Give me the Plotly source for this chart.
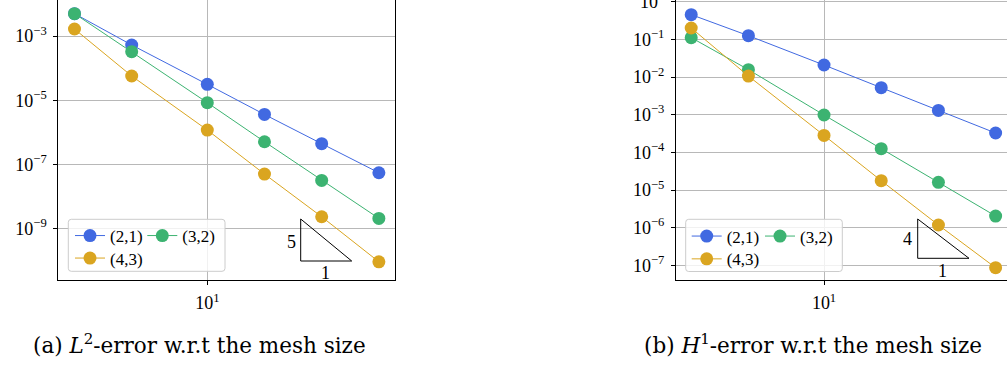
import plotly.graph_objects as go

# ---------------- data ----------------
mesh = [2, 4, 10, 20, 40, 80]
series_names = ["(2,1)", "(3,2)", "(4,3)"]
series_colors = ["#4169E1", "#3CB371", "#DAA520"]

l2_21 = [4.97e-3, 5.25e-4, 3.12e-5, 3.6e-6, 4.43e-7, 5.52e-8]
l2_32 = [4.97e-3, 3.25e-4, 8.4e-6, 5.1e-7, 3.19e-8, 2.09e-9]
l2_43 = [1.65e-3, 5.68e-5, 1.18e-6, 5.02e-8, 2.35e-9, 9.3e-11]

h1_21 = [0.452, 0.125, 0.0208, 5.2e-3, 1.3e-3, 3.26e-4]
h1_32 = [0.111, 0.0157, 9.8e-4, 1.25e-4, 1.6e-5, 2.04e-6]
h1_43 = [0.2, 0.0106, 2.82e-4, 1.77e-5, 1.18e-6, 8.67e-8]

l2_ticks = [1e-3, 1e-5, 1e-7, 1e-9]
l2_ticktext = ["10<sup>−3</sup>", "10<sup>−5</sup>", "10<sup>−7</sup>", "10<sup>−9</sup>"]
h1_ticks = [1e0, 1e-1, 1e-2, 1e-3, 1e-4, 1e-5, 1e-6, 1e-7]
h1_ticktext = ["10<sup>0</sup>", "10<sup>−1</sup>", "10<sup>−2</sup>", "10<sup>−3</sup>",
               "10<sup>−4</sup>", "10<sup>−5</sup>", "10<sup>−6</sup>", "10<sup>−7</sup>"]
x_ticks = [10]
x_ticktext = ["10<sup>1</sup>"]

captions = ["(a) <i>L</i><sup>2</sup>-error w.r.t the mesh size",
            "(b) <i>H</i><sup>1</sup>-error w.r.t the mesh size"]
slopes = ["5", "4"]

# ---------------- layout helpers ----------------
W, H = 1007, 365
FONT = "Liberation Serif"
CAP_FONT = "DejaVu Serif"


def px(x):
    return x / W


def py(y):
    return (H - y) / H


fig = go.Figure()

left_series = [l2_21, l2_32, l2_43]
right_series = [h1_21, h1_32, h1_43]

legend_ids_left = ["legend", "legend2", "legend3"]
legend_ids_right = ["legend4", "legend5", "legend6"]

for i, ys in enumerate(left_series):
    fig.add_trace(go.Scatter(
        x=mesh, y=ys, mode="lines+markers", name=series_names[i],
        line=dict(color=series_colors[i], width=1),
        marker=dict(color=series_colors[i], size=13),
        xaxis="x", yaxis="y", legend=legend_ids_left[i]))
for i, ys in enumerate(right_series):
    fig.add_trace(go.Scatter(
        x=mesh, y=ys, mode="lines+markers", name=series_names[i],
        line=dict(color=series_colors[i], width=1),
        marker=dict(color=series_colors[i], size=13),
        xaxis="x2", yaxis="y2", legend=legend_ids_right[i]))

axis_common = dict(type="log", showgrid=True, gridcolor="#b8b8b8", gridwidth=1,
                   showline=True, linecolor="black", linewidth=1,
                   ticks="outside", ticklen=4, tickcolor="black", tickwidth=1,
                   tickfont=dict(family=FONT, size=18, color="black"),
                   ticklabelstandoff=3, ticklabeloverflow="allow",
                   zeroline=False, automargin=False)

ydom = [py(279.7), 1.0]

fig.update_layout(
    width=W, height=H, margin=dict(l=0, r=0, t=0, b=0),
    paper_bgcolor="white", plot_bgcolor="white",
    font=dict(family=FONT, size=17, color="black"),
    xaxis=dict(axis_common, domain=[px(58.3), px(395)], range=[0.2158, 1.988],
               tickvals=x_ticks, ticktext=x_ticktext, mirror=True, anchor="y"),
    yaxis=dict(axis_common, domain=ydom, range=[-10.589, -1.879],
               tickvals=l2_ticks, ticktext=l2_ticktext, mirror=True, anchor="x"),
    xaxis2=dict(axis_common, domain=[px(676), 1.0], range=[0.221, 1.963],
                tickvals=x_ticks, ticktext=x_ticktext, mirror=True, anchor="y2"),
    yaxis2=dict(axis_common, domain=ydom, range=[-7.38, 0.044],
                tickvals=h1_ticks, ticktext=h1_ticktext, mirror=False, anchor="x2"),
    showlegend=True,
)

# legends: one entry per legend so the 2+1 layout matches
leg_pos = {
    "legend": (70, 234), "legend2": (142.3, 234), "legend3": (70, 256.5),
    "legend4": (686.7, 234.5), "legend5": (760, 234.5), "legend6": (686.7, 257.3),
}
for lid, (lx, ly) in leg_pos.items():
    fig.update_layout({lid: dict(x=px(lx), y=py(ly - 16), xanchor="left", yanchor="top",
                                 bgcolor="rgba(0,0,0,0)", borderwidth=0,
                                 font=dict(family=FONT, size=17, color="black"),
                                 itemsizing="trace")})


def rounded_box(x0, y0, x1, y1, r=3):
    def P(x, y):
        return f"{px(x)},{py(y)}"
    return (f"M {P(x0 + r, y0)} L {P(x1 - r, y0)} Q {P(x1, y0)} {P(x1, y0 + r)} "
            f"L {P(x1, y1 - r)} Q {P(x1, y1)} {P(x1 - r, y1)} "
            f"L {P(x0 + r, y1)} Q {P(x0, y1)} {P(x0, y1 - r)} "
            f"L {P(x0, y0 + r)} Q {P(x0, y0)} {P(x0 + r, y0)} Z")


shapes = []
for (bx0, by0, bx1, by1) in [(68.3, 219.3, 225, 271.3), (685.7, 219.3, 842.3, 271.5)]:
    shapes.append(dict(type="path", xref="paper", yref="paper", layer="above",
                       path=rounded_box(bx0, by0, bx1, by1),
                       fillcolor="rgba(255,255,255,0.8)",
                       line=dict(color="#cccccc", width=1)))

# slope triangles
tri = [((300.7, 219), (300.7, 261), (351.7, 261)),
       ((917.7, 219), (917.7, 258.3), (969, 258.3))]
for (a, b, c) in tri:
    shapes.append(dict(type="path", xref="paper", yref="paper", layer="above",
                       path=f"M {px(a[0])},{py(a[1])} L {px(b[0])},{py(b[1])} "
                            f"L {px(c[0])},{py(c[1])} Z",
                       line=dict(color="black", width=1)))
fig.update_layout(shapes=shapes)

annotations = []
label_pos = [((291, 241.7), (325.7, 272.7)), ((907.3, 239), (942.7, 270.7))]
for k, ((sx, sy), (ox, oy)) in enumerate(label_pos):
    annotations.append(dict(x=px(sx), y=py(sy), xref="paper", yref="paper",
                            xanchor="center", yanchor="middle",
                            text=slopes[k], showarrow=False,
                            font=dict(family=FONT, size=18, color="black")))
    annotations.append(dict(x=px(ox), y=py(oy), xref="paper", yref="paper",
                            xanchor="center", yanchor="middle",
                            text="1", showarrow=False,
                            font=dict(family=FONT, size=18, color="black")))
for k, cx in enumerate([199.5, 812.5]):
    annotations.append(dict(x=px(cx), y=py(344), xref="paper", yref="paper",
                            xanchor="center", yanchor="middle",
                            text=captions[k], showarrow=False,
                            font=dict(family=CAP_FONT, size=21.5, color="black")))
fig.update_layout(annotations=annotations)

fig.write_html("out.html", config={"displayModeBar": False},
               post_script="document.body.style.margin='0px';document.body.style.overflow='hidden';")
